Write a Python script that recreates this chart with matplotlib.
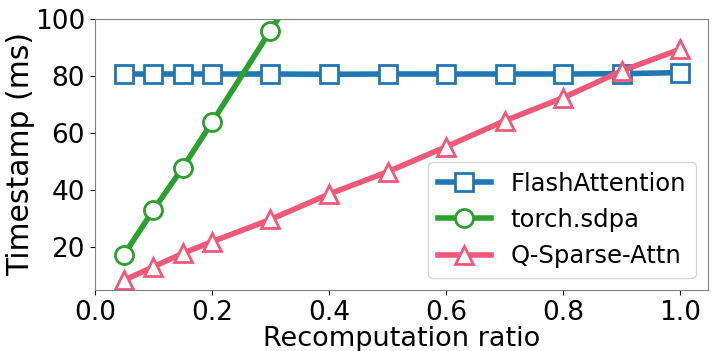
import numpy as np
import matplotlib.pyplot as plt

ratio = [0.05, 0.1, 0.15, 0.2, 0.3, 0.4, 0.5, 0.6, 0.7, 0.8, 0.9, 1.0]
flash = [80.7, 80.7, 80.7, 80.7, 80.7, 80.6, 80.7, 80.7, 80.7, 80.7, 80.8, 81.2]
sdpa_ratio = [0.05, 0.1, 0.15, 0.2, 0.3, 0.4]
sdpa = [17.4, 33.0, 47.8, 63.7, 95.9, 128.0]
qsparse = [8.4, 13.1, 17.8, 21.9, 29.7, 38.6, 46.4, 55.2, 64.3, 72.4, 81.8, 89.4]

fig, ax = plt.subplots(figsize=(7.18, 3.51), dpi=100)

ms = 13
lw = 4
ax.plot(ratio, flash, color='#1f77b4', lw=lw, marker='s', ms=ms,
        mfc='white', mew=2, label='FlashAttention')
ax.plot(sdpa_ratio, sdpa, color='#2ca02c', lw=lw, marker='o', ms=ms,
        mfc='white', mew=2, label='torch.sdpa')
ax.plot(ratio, qsparse, color='#f0587a', lw=lw, marker='^', ms=ms,
        mfc='white', mew=2, label='Q-Sparse-Attn')

ax.set_xlim(0, 1.047)
ax.set_ylim(5, 100)
ax.set_xticks([0.0, 0.2, 0.4, 0.6, 0.8, 1.0])
ax.set_yticks([20, 40, 60, 80, 100])
ax.tick_params(labelsize=19)
ax.set_xlabel('Recomputation ratio', fontsize=19.5, labelpad=0)
ax.set_ylabel('Timestamp (ms)', fontsize=21.5, labelpad=0)
for s in ax.spines.values():
    s.set_color('#808080')

ax.legend(loc='lower right', fontsize=17.5, handlelength=2.2)

fig.subplots_adjust(left=0.132, right=0.986, top=0.946, bottom=0.174)
fig.savefig('out.png', dpi=100)
